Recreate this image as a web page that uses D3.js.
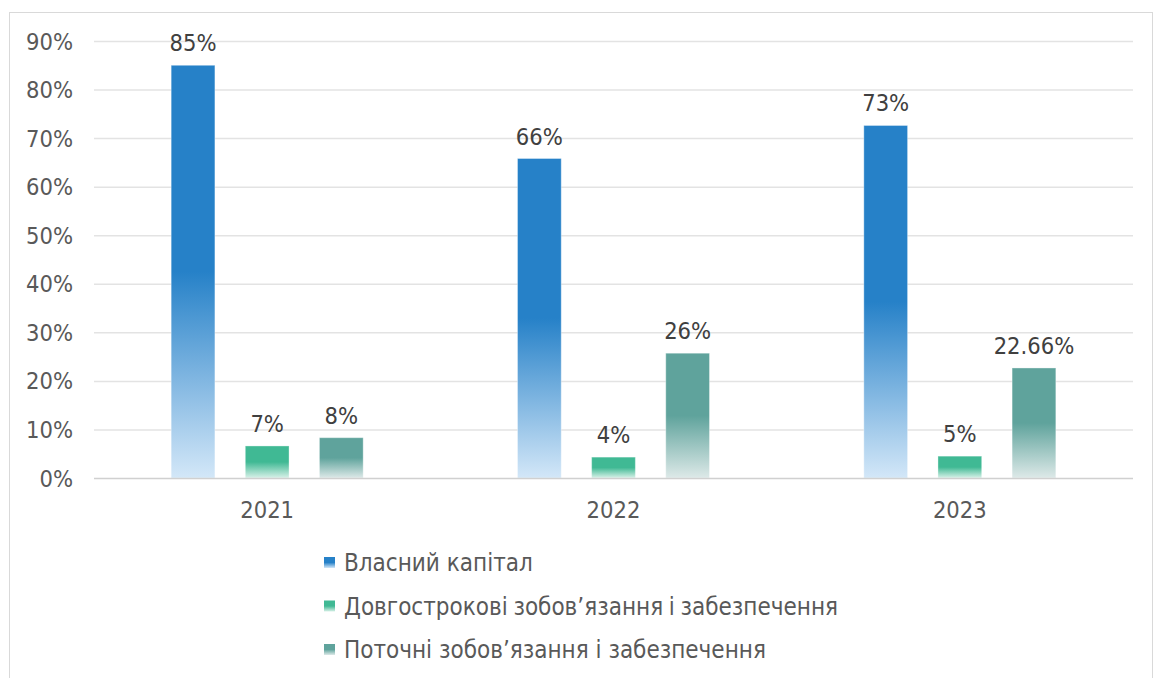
<!DOCTYPE html>
<html>
<head>
<meta charset="utf-8">
<script src="https://cdn.jsdelivr.net/npm/d3@7"></script>
<style>
  body { margin: 0; background: #fff; }
  svg text { font-family: "DejaVu Sans Condensed", "DejaVu Sans", sans-serif; }
</style>
</head>
<body>
<div id="chart"></div>
<script>
// data
var years = ["2021", "2022", "2023"];
var seriesNames = ["Власний капітал", "Довгострокові  зобов’язання  і  забезпечення", "Поточні зобов’язання і забезпечення"];
var equity = [85, 65.8, 72.6];
var longTerm = [6.6, 4.3, 4.5];
var current = [8.3, 25.7, 22.66];
var equityLabels = ["85%", "66%", "73%"];
var longTermLabels = ["7%", "4%", "5%"];
var currentLabels = ["8%", "26%", "22.66%"];
var yTicks = [0, 10, 20, 30, 40, 50, 60, 70, 80, 90];

var seriesColors = [
  { top: "#2681c8", bottom: "#d3e7f8" },
  { top: "#40b994", bottom: "#d8f1e8" },
  { top: "#5fa39c", bottom: "#dde9e8" }
];

var width = 1163, height = 678;
var margin = { left: 94, top: 41 };
var plotRight = 1133, plotBottom = 478;
var fontSize = 23.5;

var svg = d3.select("#chart").append("svg")
  .attr("width", width)
  .attr("height", height);

// frame
svg.append("rect")
  .attr("x", 9.5).attr("y", 12.5)
  .attr("width", 1143).attr("height", 700)
  .attr("fill", "none")
  .attr("stroke", "#d9d9d9");

var defs = svg.append("defs");
seriesColors.forEach(function (c, i) {
  var g = defs.append("linearGradient")
    .attr("id", "grad" + i)
    .attr("x1", 0).attr("y1", 0).attr("x2", 0).attr("y2", 1);
  g.append("stop").attr("offset", "0%").attr("stop-color", c.top);
  g.append("stop").attr("offset", "50%").attr("stop-color", c.top);
  g.append("stop").attr("offset", "100%").attr("stop-color", c.bottom);
});

var x0 = d3.scaleBand().domain(years).range([margin.left, plotRight]);
var x1 = d3.scaleBand().domain([0, 1, 2]).range([0, 192]).paddingInner(0.41);
var y = d3.scaleLinear().domain([0, 90]).range([plotBottom, margin.top]);

// grid
svg.append("g").selectAll("line")
  .data(yTicks.slice(1))
  .enter().append("line")
  .attr("x1", margin.left).attr("x2", plotRight)
  .attr("y1", function (d) { return y(d) + 0.5; })
  .attr("y2", function (d) { return y(d) + 0.5; })
  .attr("stroke", "#e3e3e3")
  .attr("stroke-width", 1.5);

// y labels
svg.append("g").selectAll("text")
  .data(yTicks)
  .enter().append("text")
  .attr("x", 73)
  .attr("y", function (d) { return y(d) + 8.5; })
  .attr("text-anchor", "end")
  .attr("font-size", fontSize)
  .attr("fill", "#595959")
  .text(function (d) { return d + "%"; });

var values = [equity, longTerm, current];
var labels = [equityLabels, longTermLabels, currentLabels];

var rows = [];
years.forEach(function (yr, i) {
  values.forEach(function (s, j) {
    rows.push({ year: yr, s: j, v: s[i], label: labels[j][i] });
  });
});

var groupOffset = (x0.bandwidth() - 192) / 2;

svg.append("g").selectAll("rect")
  .data(rows)
  .enter().append("rect")
  .attr("x", function (d) { return x0(d.year) + groupOffset + x1(d.s); })
  .attr("y", function (d) { return y(d.v); })
  .attr("width", x1.bandwidth())
  .attr("height", function (d) { return plotBottom - y(d.v); })
  .attr("fill", function (d) { return "url(#grad" + d.s + ")"; })
  .attr("stroke", "#ffffff")
  .attr("stroke-opacity", 0.35)
  .attr("stroke-width", 1);

svg.append("g").selectAll("text")
  .data(rows)
  .enter().append("text")
  .attr("x", function (d) { return x0(d.year) + groupOffset + x1(d.s) + x1.bandwidth() / 2; })
  .attr("y", function (d) { return y(d.v) - 14; })
  .attr("text-anchor", "middle")
  .attr("font-size", fontSize)
  .attr("fill", "#404040")
  .text(function (d) { return d.label; });

// baseline
svg.append("line")
  .attr("x1", margin.left).attr("x2", plotRight)
  .attr("y1", plotBottom + 0.5).attr("y2", plotBottom + 0.5)
  .attr("stroke", "#d0d0d0")
  .attr("stroke-width", 1.5);

// x labels
svg.append("g").selectAll("text")
  .data(years)
  .enter().append("text")
  .attr("x", function (d) { return x0(d) + x0.bandwidth() / 2; })
  .attr("y", 518)
  .attr("text-anchor", "middle")
  .attr("font-size", fontSize)
  .attr("fill", "#595959")
  .text(function (d) { return d; });

// legend
var legend = svg.append("g").selectAll("g")
  .data(seriesNames)
  .enter().append("g")
  .attr("transform", function (d, i) { return "translate(324," + (557 + i * 43.5) + ")"; });

legend.append("rect")
  .attr("width", 11).attr("height", 11)
  .attr("fill", function (d, i) { return "url(#grad" + i + ")"; });

legend.append("text")
  .attr("x", 20)
  .attr("y", 14)
  .attr("font-size", 24)
  .attr("fill", "#595959")
  .style("white-space", "pre")
  .style("word-spacing", function (d) { return d.indexOf("  ") >= 0 ? "-4px" : null; })
  .text(function (d) { return d; });
</script>
</body>
</html>
